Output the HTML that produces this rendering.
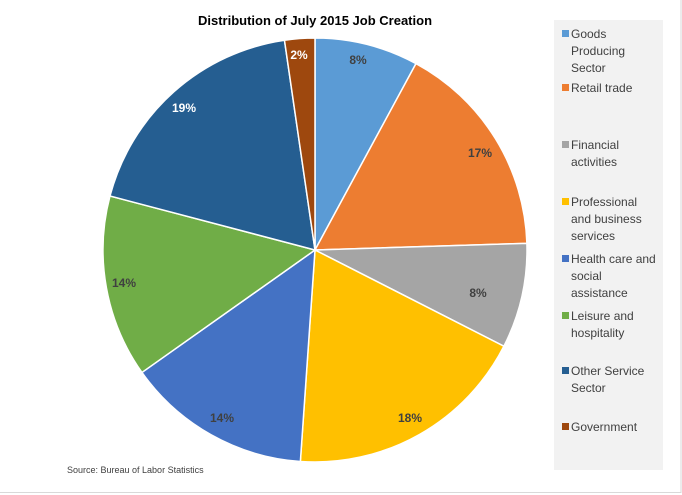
<!DOCTYPE html>
<html><head><meta charset="utf-8"><style>
body{margin:0;background:#fff;}
#c{position:relative;width:682px;height:495px;overflow:hidden;font-family:"Liberation Sans",sans-serif;}
.lg{position:absolute;left:554px;top:20px;width:109px;height:450px;background:#f2f2f2;}
.it{position:absolute;left:17px;font-size:12px;line-height:17px;color:#404040;width:92px;}
.sq{position:absolute;left:8px;width:7px;height:7px;}
</style></head><body><div id="c">
<svg width="682" height="495" style="position:absolute;left:0;top:0">
<line x1="681" y1="0" x2="681" y2="493" stroke="#d9d9d9"/>
<line x1="0" y1="492.5" x2="681" y2="492.5" stroke="#d9d9d9"/>
<text x="315" y="25" text-anchor="middle" font-size="13" font-weight="bold" fill="#000" font-family="Liberation Sans">Distribution of July 2015 Job Creation</text>
<g id="pie"></g>
<g font-size="12" font-weight="bold" fill="#404040" text-anchor="middle" font-family="Liberation Sans">
<text x="358" y="64">8%</text>
<text x="480" y="157">17%</text>
<text x="478" y="297">8%</text>
<text x="410" y="422">18%</text>
<text x="222" y="422">14%</text>
<text x="124" y="287">14%</text>
<text x="184" y="112" fill="#fff">19%</text>
<text x="299" y="59" fill="#fff">2%</text>
</g>
<text x="67" y="473" font-size="9" fill="#404040" font-family="Liberation Sans">Source: Bureau of Labor Statistics</text>
</svg>
<div class="lg">
<div class="sq" style="top:10px;background:#5b9bd5"></div><div class="it" style="top:6px">Goods<br>Producing<br>Sector</div>
<div class="sq" style="top:64px;background:#ed7d31"></div><div class="it" style="top:60px">Retail trade</div>
<div class="sq" style="top:121px;background:#a5a5a5"></div><div class="it" style="top:117px">Financial<br>activities</div>
<div class="sq" style="top:178px;background:#ffc000"></div><div class="it" style="top:174px">Professional<br>and business<br>services</div>
<div class="sq" style="top:235px;background:#4472c4"></div><div class="it" style="top:231px">Health care and<br>social<br>assistance</div>
<div class="sq" style="top:292px;background:#70ad47"></div><div class="it" style="top:288px">Leisure and<br>hospitality</div>
<div class="sq" style="top:347px;background:#255e91"></div><div class="it" style="top:343px">Other Service<br>Sector</div>
<div class="sq" style="top:403px;background:#9e480e"></div><div class="it" style="top:399px">Government</div>
</div>
</div>
<script>
var cum=[0,.079,.245,.325,.511,.652,.791,.977,1];
var col=["#5b9bd5","#ed7d31","#a5a5a5","#ffc000","#4472c4","#70ad47","#255e91","#9e480e"];
var cx=315,cy=250,r=212,s="";
function pt(f){var a=f*2*Math.PI;return [cx+r*Math.sin(a),cy-r*Math.cos(a)];}
for(var i=0;i<8;i++){var a=pt(cum[i]),b=pt(cum[i+1]),l=(cum[i+1]-cum[i])>.5?1:0;
s+='<path d="M'+cx+','+cy+' L'+a[0]+','+a[1]+' A'+r+','+r+' 0 '+l+' 1 '+b[0]+','+b[1]+' Z" fill="'+col[i]+'" stroke="#fff" stroke-width="1.5"/>';}
document.getElementById("pie").innerHTML=s;
</script>
</body></html>
